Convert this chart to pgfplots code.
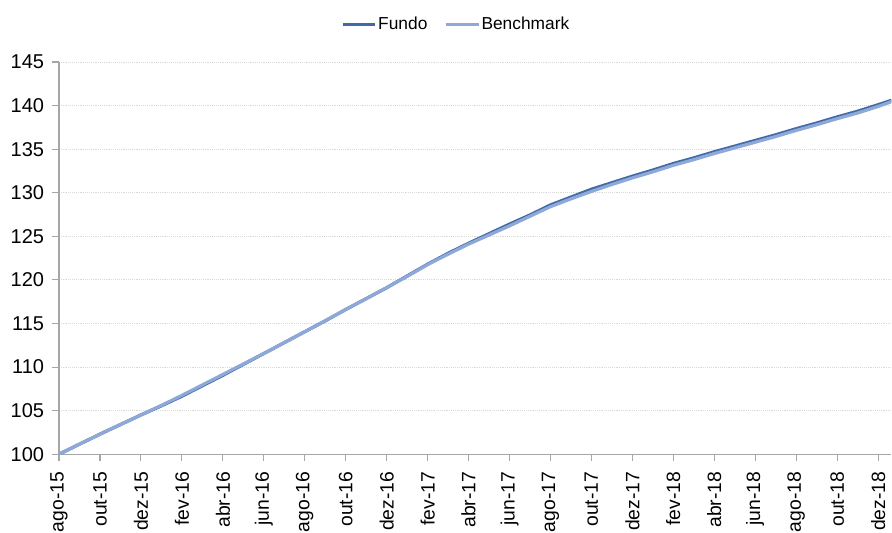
\documentclass[border=0pt]{standalone}
\usepackage{pgfplots}
\pgfplotsset{compat=1.18}
\usepackage{fontspec}
\setmainfont{Liberation Sans}
\definecolor{fundo}{HTML}{3F69A8}
\definecolor{bench}{HTML}{8EA8D8}
\definecolor{axgray}{HTML}{A6A6A6}
\begin{document}
\begin{tikzpicture}
\begin{axis}[
  name=ax,
  scale only axis,
  width=624pt, height=294pt,
  xmin=0, xmax=40.65,
  ymin=100, ymax=145,
  ytick={100,105,...,145},
  xtick={0,2,...,40},
  xticklabels={ago-15,out-15,dez-15,fev-16,abr-16,jun-16,ago-16,out-16,dez-16,fev-17,abr-17,jun-17,ago-17,out-17,dez-17,fev-18,abr-18,jun-18,ago-18,out-18,dez-18},
  x tick label style={rotate=90, anchor=east, font=\fontsize{14.5}{16}\selectfont, inner sep=0pt},
  xticklabel shift=8pt,
  y tick label style={font=\fontsize{15}{17}\selectfont, inner sep=0pt},
  yticklabel shift=6pt,
  /pgf/number format/assume math mode=true,
  axis x line*=bottom, axis y line*=left,
  axis line style={axgray, line width=0.9pt, -},
  tick style={axgray, line width=0.8pt},
  tick align=outside,
  major tick length=5pt,
  ymajorgrids,
  grid style={densely dotted, gray!30, line width=0.6pt},
  clip=true,
  legend style={at={(0.477,1)}, yshift=28pt, anchor=center, draw=none, fill=none, legend columns=2,
    font=\fontsize{13}{15}\selectfont, /tikz/every even column/.append style={column sep=12pt},
    nodes={inner sep=1pt}},
  legend cell align=left,
]
\addlegendimage{legend image code/.code={\draw[draw=fundo, line width=2.3pt] (0cm,0cm) -- (0.85cm,0cm);}}
\addlegendentry{Fundo}
\addlegendimage{legend image code/.code={\draw[draw=bench, line width=2.4pt] (0cm,0cm) -- (0.85cm,0cm);}}
\addlegendentry{Benchmark}
\addplot[fundo, line width=2.4pt, forget plot] coordinates {
(0,100.0) (1,101.15) (2,102.3) (3,103.4) (4,104.5) (5,105.55) (6,106.65) (7,107.85) (8,109.05)
(9,110.3) (10,111.55) (11,112.8) (12,114.05) (13,115.3) (14,116.6) (15,117.85) (16,119.1)
(17,120.45) (18,121.8) (19,123.05) (20,124.2) (21,125.3) (22,126.4) (23,127.45) (24,128.6)
(25,129.5) (26,130.4) (27,131.15) (28,131.9) (29,132.6) (30,133.35) (31,134.0) (32,134.7)
(33,135.35) (34,136.0) (35,136.65) (36,137.35) (37,138.0) (38,138.7) (39,139.35) (40,140.1) (40.65,140.6)
};
\addplot[bench, line width=2.4pt, forget plot] coordinates {
(0,100.0) (1,101.15) (2,102.3) (3,103.4) (4,104.5) (5,105.6) (6,106.75) (7,107.95) (8,109.15)
(9,110.35) (10,111.55) (11,112.8) (12,114.05) (13,115.3) (14,116.6) (15,117.85) (16,119.1)
(17,120.4) (18,121.75) (19,122.95) (20,124.1) (21,125.15) (22,126.2) (23,127.3) (24,128.4)
(25,129.3) (26,130.15) (27,130.95) (28,131.7) (29,132.4) (30,133.15) (31,133.8) (32,134.5)
(33,135.15) (34,135.8) (35,136.45) (36,137.15) (37,137.8) (38,138.5) (39,139.15) (40,139.9) (40.65,140.45)
};
\end{axis}
\path (ax.south west) ++(-44.25pt,-50.25pt) rectangle ([yshift=46.5pt]ax.north east);
\end{tikzpicture}
\end{document}
